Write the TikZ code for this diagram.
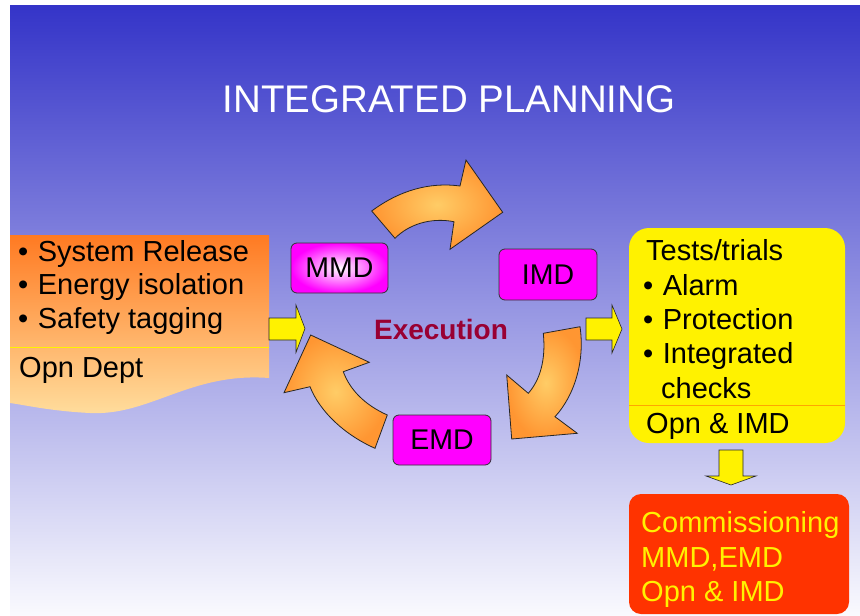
\documentclass[tikz,border=0pt]{standalone}
\usepackage{fontspec}
\setmainfont{Liberation Sans}

\definecolor{bgtop}{RGB}{52,52,200}
\definecolor{bgbottom}{RGB}{250,250,254}
\definecolor{docorange}{RGB}{255,122,34}
\definecolor{doclight}{RGB}{255,222,158}
\definecolor{arrowmid}{RGB}{255,204,102}
\definecolor{arrowedge}{RGB}{255,150,50}
\definecolor{execred}{RGB}{153,0,51}
\definecolor{commred}{RGB}{255,51,0}
\definecolor{deptpink}{RGB}{255,0,255}
\newcommand{\itemdot}{•\hspace{9.5pt}}

\begin{document}
\begin{tikzpicture}[x=1pt,y=-1pt,
	body/.style={font=\fontsize{29}{34}\selectfont, inner sep=0pt, anchor=base west},
	dept/.style={draw=black!80, line width=0.8pt, rounded corners=6pt, minimum width=97pt,
		minimum height=50pt, inner sep=0pt, font=\fontsize{28.5}{34}\selectfont},
	curlarrow/.style={draw=black!85, line width=0.8pt, inner color=arrowmid, outer color=arrowedge},
	pusharrow/.style={draw=black!85, line width=0.6pt, fill=yellow}]
		\useasboundingbox (0,0) rectangle (860,616);
		\fill [white] (0,0) rectangle (860,616);
		\shade [top color=bgtop, bottom color=bgbottom] (10,5) rectangle (860,616);
		
		\node [white, font=\fontsize{38.5}{44}\selectfont, inner sep=0pt, anchor=base] (title) at (449,112) {INTEGRATED PLANNING};
		
		% release block on the left
		\shade [top color=docorange, bottom color=doclight] (10,235) -- (269,235) -- (269,378)
			.. controls (190,372) and (150,416) .. (90,413)
			.. controls (50,411) and (25,405) .. (10,403) -- cycle;
		\draw [yellow, line width=0.8pt] (10,347) -- (269,347);
		\node [body] (rel1) at (18,261) {\itemdot System Release};
		\node [body] (rel2) at (18,294) {\itemdot Energy isolation};
		\node [body] (rel3) at (18,328) {\itemdot Safety tagging};
		\node [body] (opn) at (19,377) {Opn Dept};
		
		% execution cycle
		\node [dept, inner color=white, outer color=deptpink] (mmd) at (339.5,268) {MMD};
		\node [dept, fill=deptpink, minimum width=98pt, minimum height=51pt] (imd) at (548,274.5) {IMD};
		\node [dept, fill=deptpink, minimum width=98pt] (emd) at (442,440) {EMD};
		\node [execred, font=\bfseries\fontsize{28}{34}\selectfont, inner sep=0pt, anchor=base] (exec) at (441,339) {Execution};
		
		\draw [curlarrow] (371.7,211) .. controls (400,190) and (430,182) .. (460,186) -- (466,160) -- (502.7,212.3)
			-- (450,249.3) -- (454,221.7) .. controls (430,217) and (408,225) .. (395,238.3) -- cycle;
		\draw [curlarrow] (580,326.7) .. controls (585,360) and (575,395) .. (555,416.7) -- (577.3,433.3) -- (511.7,439)
			-- (506.7,375) -- (528.3,393.3) .. controls (540,380) and (546,360) .. (543.3,333.3) -- cycle;
		\draw [curlarrow] (375,448.3) .. controls (345,435) and (320,412) .. (310,386.7) -- (284,392.7) -- (310.7,335)
			-- (369.3,362.3) -- (343.3,371.7) .. controls (350,390) and (365,405) .. (387.3,415) -- cycle;
		
		% yellow block arrows
		\draw [pusharrow] (269,318) -- (296,318) -- (296,305) -- (305,328.5) -- (296,352.5) -- (296,340) -- (269,340) -- cycle;
		\draw [pusharrow] (586,318) -- (612,318) -- (612,305) -- (622,329) -- (612,353) -- (612,340) -- (586,340) -- cycle;
		\draw [pusharrow] (719,450) -- (743,450) -- (743,476) -- (756,476) -- (731,485) -- (706,476) -- (719,476) -- cycle;
		
		% tests block
		\fill [yellow, rounded corners=20pt] (629,228) rectangle (845,443);
		\draw [orange!70!yellow, line width=0.6pt] (629,405) -- (845,405);
		\node [body] (test) at (646,260) {Tests/trials};
		\node [body] (alarm) at (643,295) {\itemdot Alarm};
		\node [body] (prot) at (643,329) {\itemdot Protection};
		\node [body] (integ) at (643,363) {\itemdot Integrated};
		\node [body] (check) at (661,398) {checks};
		\node [body] (opnimd) at (646,433) {Opn \& IMD};
		
		% commissioning block
		\fill [commred, rounded corners=12pt] (629,494) rectangle (849,614);
		\node [body, yellow] (comm) at (641,532) {Commissioning};
		\node [body, yellow] (comm2) at (641,567) {MMD,EMD};
		\node [body, yellow] (comm3) at (641,601) {Opn \& IMD};
	
	\end{tikzpicture}
\end{document}
